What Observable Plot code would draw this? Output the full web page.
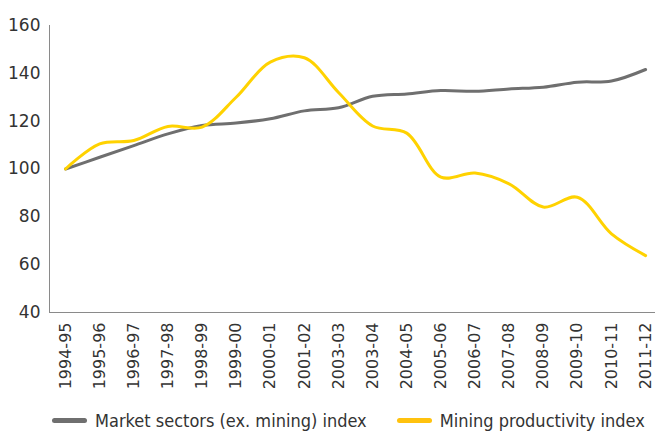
<!DOCTYPE html>
<html><head><meta charset="utf-8">
<script src="https://cdn.jsdelivr.net/npm/d3@7"></script>
<script src="https://cdn.jsdelivr.net/npm/@observablehq/plot@0.6"></script>
<style>
body{margin:0;background:#fff;font-family:"DejaVu Sans",sans-serif;}
#legend{display:flex;align-items:center;height:28px;margin-top:3px;font-size:18px;color:#333;font-family:"DejaVu Sans Condensed","DejaVu Sans",sans-serif;white-space:nowrap;}
.sw{display:inline-block;width:35px;height:5px;border-radius:3px;margin-right:8px;}
.item{display:flex;align-items:center;}
</style></head><body>
<div id="chart"></div>
<div id="legend"></div>
<script>
const periods = ["1994-95","1995-96","1996-97","1997-98","1998-99","1999-00","2000-01","2001-02","2003-03","2003-04","2004-05","2005-06","2006-07","2007-08","2008-09","2009-10","2010-11","2011-12"];
const marketSectors = [100,104.9,109.8,114.7,118.2,119.2,121,124.3,125.6,130.4,131.4,132.8,132.5,133.5,134.2,136.3,136.8,141.6];
const mining = [100,110.5,111.9,117.8,117.5,130,144.7,146.5,132,118,115,96.6,98.3,93.8,84.1,88.2,72.9,63.8];
const seriesNames = ["Market sectors (ex. mining) index","Mining productivity index"];
const colors = ["#6f6f6f","#ffd200"];
const legendColors = ["#6f6f6f","#ffc20e"];
const yTicks = [40,60,80,100,120,140,160];

const data = [];
periods.forEach((p,i)=>{
  data.push({i, period:p, value:marketSectors[i], series:seriesNames[0]});
  data.push({i, period:p, value:mining[i], series:seriesNames[1]});
});

const plot = Plot.plot({
  width:655, height:403,
  marginLeft:49, marginRight:0, marginTop:25, marginBottom:91,
  style:{fontFamily:"DejaVu Sans, sans-serif", fontSize:"16px", color:"#333"},
  x:{type:"linear", domain:[-0.47,17.29]},
  y:{domain:[40,160]},
  color:{domain:seriesNames, range:colors},
  marks:[
    Plot.frame({anchor:"left", stroke:"#8a8a8a"}),
    Plot.frame({anchor:"bottom", stroke:"#8a8a8a"}),
    Plot.axisY({ticks:yTicks, tickSize:0, tickPadding:9, fontSize:17, label:null}),
    Plot.axisX({ticks:periods.map((d,i)=>i), tickFormat:i=>periods[i], tickRotate:-90, tickSize:0, tickPadding:10, fontSize:16, label:null}),
    Plot.line(data,{x:"i", y:"value", stroke:"series", z:"series", strokeWidth:3, curve:"catmull-rom"})
  ]
});
document.getElementById("chart").appendChild(plot);

const leg = document.getElementById("legend");
seriesNames.forEach((n,k)=>{
  const it = document.createElement("div");
  it.className="item";
  it.style.marginLeft = k===0 ? "52px" : "30px";
  it.innerHTML = `<span class="sw" style="background:${legendColors[k]}"></span><span>${n}</span>`;
  leg.appendChild(it);
});
</script>
</body></html>
